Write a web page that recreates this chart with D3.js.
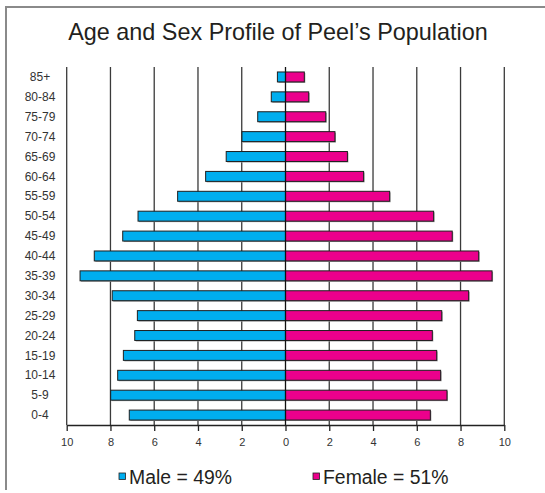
<!DOCTYPE html>
<html><head><meta charset="utf-8">
<script src="https://cdn.jsdelivr.net/npm/d3@7"></script>
<style>body{margin:0;background:#fff}svg{display:block}</style>
</head><body><svg id="c" width="545" height="493"></svg>
<script>
const ageGroups = ["85+","80-84","75-79","70-74","65-69","60-64","55-59","50-54","45-49","40-44","35-39","30-34","25-29","20-24","15-19","10-14","5-9","0-4"];
const maleValues = [0.37,0.65,1.27,1.99,2.71,3.65,4.93,6.74,7.44,8.74,9.39,7.92,6.77,6.89,7.41,7.67,7.99,7.14];
const femaleValues = [0.86,1.06,1.84,2.26,2.83,3.57,4.76,6.77,7.62,8.83,9.44,8.37,7.14,6.71,6.91,7.09,7.38,6.62];
const tickValues = [-10,-8,-6,-4,-2,0,2,4,6,8,10];
const legendLabels = ["Male = 49%","Female = 51%"];
const colors = ["#00AEEF","#EC008C"];

const svg = d3.select("#c");
const font = "'Liberation Sans', Arial, sans-serif";

svg.append("path").attr("d","M6,490 L6,7 L545,7").attr("fill","none").attr("stroke","#8a8a8a").attr("stroke-width",2);

svg.append("text").attr("x",278).attr("y",40).attr("text-anchor","middle")
  .attr("font-family",font).attr("font-size",23.4).attr("fill","#231f20")
  .text("Age and Sex Profile of Peel\u2019s Population");

const x = d3.scaleLinear().domain([-10,10]).range([66.7,504.3]);
const y = d3.scaleBand().domain(ageGroups).range([67,425]).paddingInner(0.5).paddingOuter(0.25);

svg.append("g").selectAll("line").data(tickValues.filter(d=>d!==0)).join("line")
  .attr("x1",d=>x(d)).attr("x2",d=>x(d)).attr("y1",67).attr("y2",425)
  .attr("stroke","#3a3a3a").attr("stroke-width",1.3);

const rows = ageGroups.map((g,i)=>({g,m:maleValues[i],f:femaleValues[i]}));
const gb = svg.append("g");
gb.selectAll("rect.ms").data(rows).join("rect")
  .attr("x",d=>x(-d.m)+1).attr("y",d=>y(d.g)+1).attr("width",d=>x(0)-x(-d.m)).attr("height",y.bandwidth())
  .attr("fill","#9a9a9a");
gb.selectAll("rect.fs").data(rows).join("rect")
  .attr("x",d=>x(0)+1).attr("y",d=>y(d.g)+1).attr("width",d=>x(d.f)-x(0)).attr("height",y.bandwidth())
  .attr("fill","#9a9a9a");
gb.selectAll("rect.m").data(rows).join("rect")
  .attr("x",d=>x(-d.m)).attr("y",d=>y(d.g)).attr("width",d=>x(0)-x(-d.m)).attr("height",y.bandwidth())
  .attr("fill",colors[0]).attr("stroke","#1f1f1f").attr("stroke-width",1);
gb.selectAll("rect.f").data(rows).join("rect")
  .attr("x",d=>x(0)).attr("y",d=>y(d.g)).attr("width",d=>x(d.f)-x(0)).attr("height",y.bandwidth())
  .attr("fill",colors[1]).attr("stroke","#1f1f1f").attr("stroke-width",1);

svg.append("line").attr("x1",x(0)).attr("x2",x(0)).attr("y1",67).attr("y2",425)
  .attr("stroke","#111").attr("stroke-width",1.3);

const xa = svg.append("g").attr("transform","translate(0,425)")
  .call(d3.axisBottom(x).tickValues(tickValues).tickFormat(d=>Math.abs(d)).tickSize(6).tickSizeOuter(0));
xa.select(".domain").attr("stroke","#222").attr("stroke-width",1.3);
xa.selectAll(".tick line").attr("stroke","#222").attr("stroke-width",1.3);
xa.selectAll(".tick text").attr("font-family",font).attr("font-size",11).attr("fill","#333").attr("dy","1.1em");

svg.append("g").selectAll("text").data(ageGroups).join("text")
  .attr("x",40).attr("y",d=>y(d)+y.bandwidth()/2).attr("dy","0.35em").attr("text-anchor","middle")
  .attr("font-family",font).attr("font-size",12).attr("fill","#333").text(d=>d);

const lg = [{t:legendLabels[0],c:colors[0],x:119},{t:legendLabels[1],c:colors[1],x:313}];
const leg = svg.append("g").selectAll("g").data(lg).join("g");
leg.append("rect").attr("x",d=>d.x).attr("y",473).attr("width",6.5).attr("height",6.5)
  .attr("fill",d=>d.c).attr("stroke","#222").attr("stroke-width",0.8);
leg.append("text").attr("x",d=>d.x+10).attr("y",484).attr("font-family",font).attr("font-size",19.4)
  .attr("fill","#231f20").text(d=>d.t);
</script></body></html>
